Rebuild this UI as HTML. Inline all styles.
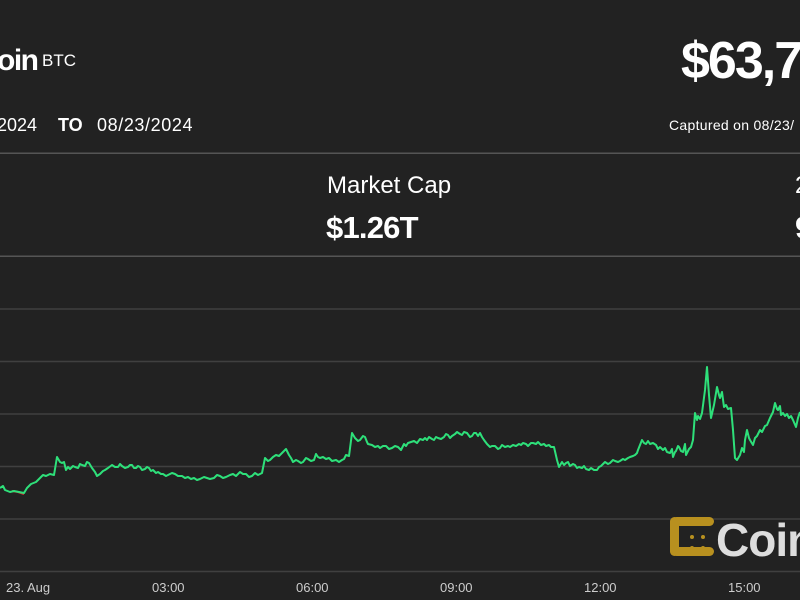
<!DOCTYPE html>
<html><head><meta charset="utf-8"><style>
html,body{margin:0;padding:0;background:#222;}
svg{display:block}
text{font-family:"Liberation Sans",Arial,sans-serif;}
</style></head><body>
<svg width="800" height="600" viewBox="0 0 800 600" xmlns="http://www.w3.org/2000/svg">
<rect width="800" height="600" fill="#222"/>
<text x="-3" y="70" font-size="30" font-weight="bold" fill="#fff" letter-spacing="-1.5">oin</text>
<text x="42" y="66" font-size="17" fill="#fff">BTC</text>
<text x="681" y="78" font-size="52" font-weight="bold" fill="#fff" letter-spacing="-2">$63,7</text>
<text x="-3" y="131" font-size="18" fill="#fff">2024</text>
<text x="58" y="131" font-size="18" font-weight="bold" fill="#fff">TO</text>
<text x="97" y="131" font-size="18" fill="#fff" letter-spacing="0.6">08/23/2024</text>
<text x="669" y="130" font-size="14" fill="#fff" letter-spacing="0.3">Captured on 08/23/</text>
<rect x="0" y="152.5" width="800" height="1.5" fill="#555"/>
<text x="327" y="193" font-size="24" fill="#fff">Market Cap</text>
<text x="326" y="238" font-size="31" font-weight="bold" fill="#fff" letter-spacing="-0.8">$1.26T</text>
<text x="795" y="193" font-size="24" fill="#fff">2</text>
<text x="795" y="238" font-size="31" font-weight="bold" fill="#fff">9</text>
<rect x="0" y="255.5" width="800" height="1.5" fill="#555"/>
<g stroke="#404040" stroke-width="1.5">
<line x1="0" y1="309" x2="800" y2="309"/>
<line x1="0" y1="361.5" x2="800" y2="361.5"/>
<line x1="0" y1="414" x2="800" y2="414"/>
<line x1="0" y1="466.5" x2="800" y2="466.5"/>
<line x1="0" y1="519" x2="800" y2="519"/>
<line x1="0" y1="571.5" x2="800" y2="571.5"/>
</g>
<g fill="#ccc" font-size="13">
<text x="6" y="592">23. Aug</text>
<text x="152" y="592">03:00</text>
<text x="296" y="592">06:00</text>
<text x="440" y="592">09:00</text>
<text x="584" y="592">12:00</text>
<text x="728" y="592">15:00</text>
</g>
<g fill="#b8901f">
<rect x="672" y="517" width="42" height="9" rx="4.5"/>
<rect x="672" y="547" width="42" height="9" rx="4.5"/>
<rect x="670" y="517" width="9" height="39" rx="4.5"/>
<circle cx="692" cy="537" r="2"/><circle cx="692" cy="548" r="2"/><circle cx="703" cy="537" r="2"/><circle cx="703" cy="548" r="2"/>
</g>
<text x="716" y="556" font-size="46" font-weight="bold" fill="#ddd" letter-spacing="-1">Coin</text>
<polyline fill="none" stroke="#d33" stroke-width="2" points="12,491 18,492 24,494"/>
<polyline fill="none" stroke="#2ee07a" stroke-width="2" stroke-linejoin="round" points="0,488 3,486 5,490 10,492 14,491 24,493 27,488 31,484 36,482 40,478 43,475 46,476 50,474 54,475 57,457 60,462 62,463 64,462 66,470 68,467 70,469 73,466 75,467 78,468 80,464 82,465 85,466 87,462 89,463 92,468 95,472 97,476 100,474 103,471 105,470 108,468 112,465 115,467 118,467 120,464 122,466 125,468 128,467 130,465 132,465 134,468 136,468 138,466 140,467 142,470 145,469 147,467 149,468 151,471 153,470 156,473 158,472 161,474 163,474 166,476 168,475 172,473 175,474 178,476 182,476 185,478 188,477 191,479 194,478 197,480 200,479 204,477 207,478 210,479 214,478 217,475 220,476 223,478 226,477 230,475 233,474 236,476 240,472 243,474 246,474 249,477 252,476 255,473 258,475 262,473 265,458 268,461 270,460 273,457 276,455 279,456 282,453 284,451 286,449 289,455 291,458 293,462 296,460 298,461 301,463 303,462 306,458 308,459 311,461 314,460 316,454 318,457 320,458 323,457 326,459 329,458 332,461 336,460 339,462 342,460 344,459 346,455 349,456 352,433 355,438 358,441 360,440 363,436 365,437 367,442 368,444 372,445 375,447 378,446 380,448 383,446 386,446 389,449 392,448 395,446 398,447 401,450 404,444 406,446 408,443 411,442 414,441 417,443 420,439 423,440 425,438 427,440 429,437 432,439 434,440 436,437 438,438 441,439 444,437 446,434 448,435 450,438 452,436 455,434 457,432 460,434 462,435 464,432 467,433 470,437 472,436 474,433 476,433 478,436 480,433 482,437 484,440 487,444 490,447 492,446 495,446 498,449 500,448 502,445 505,447 508,446 510,447 513,445 516,446 519,444 521,445 523,443 526,444 528,446 531,443 533,443 536,444 538,442 541,445 544,444 546,446 549,445 551,447 554,447 557,460 559,467 562,462 564,465 566,463 568,462 570,466 573,464 575,465 577,468 579,467 582,468 584,466 586,469 589,470 591,468 594,470 597,470 599,467 601,466 603,464 605,462 608,464 610,463 613,460 615,461 618,462 620,461 623,459 625,460 628,458 630,457 633,456 635,455 637,453 638,450 640,445 642,440 644,443 646,444 648,441 650,444 653,443 656,445 658,449 660,447 663,450 665,448 667,452 670,453 672,449 673,457 675,452 676,451 678,446 679,447 681,451 683,452 685,444 686,455 688,451 689,449 691,447 693,440 695,413 697,420 698,416 700,419 702,413 705,390 707,367 709,395 711,418 714,405 717,387 719,395 720,398 722,392 724,407 726,405 728,409 731,408 733,430 735,458 737,460 740,455 742,448 744,452 745,440 747,430 749,438 750,440 753,445 755,438 757,436 760,430 762,432 765,426 767,425 770,418 773,412 775,403 777,409 778,410 780,406 781,415 783,413 785,416 787,414 789,418 791,416 793,420 796,427 798,418 800,412"/>
</svg>
</body></html>
